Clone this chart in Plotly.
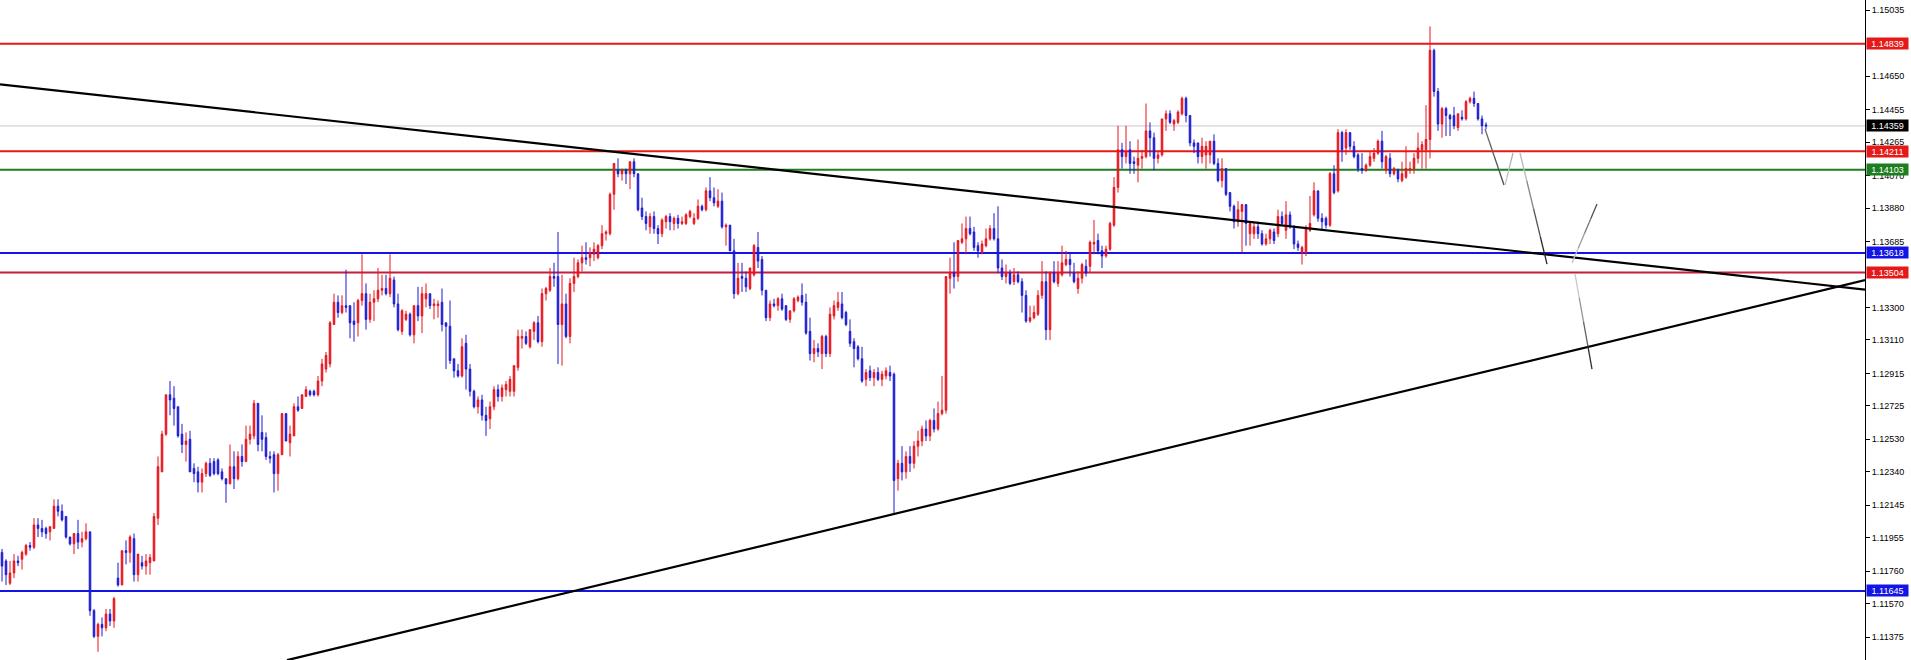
import plotly.graph_objects as go

# ---------------- data (prices) ----------------
open_ = [
1.1187,1.1182,1.1169,1.1175,1.1182,1.1183,1.1186,1.1191,1.1190,1.1203,
1.1201,1.1201,1.1199,1.1201,1.1214,1.1211,1.1208,1.1196,1.1192,1.1198,
1.1193,1.1195,1.1199,1.1153,1.1138,1.1145,1.1143,1.1151,1.1147,1.1172,
1.1168,1.1188,1.1187,1.1195,1.1174,1.1181,1.1179,1.1181,1.1182,1.1207,
1.1234,1.1256,1.1279,1.1277,1.1272,1.1256,1.1250,1.1253,1.1236,1.1234,
1.1228,1.1233,1.1239,1.1240,1.1241,1.1234,1.1230,1.1227,1.1237,1.1230,
1.1243,1.1240,1.1253,1.1255,1.1274,1.1257,1.1254,1.1243,1.1244,1.1233,
1.1244,1.1268,1.1251,1.1255,1.1272,1.1271,1.1278,1.1281,1.1281,1.1279,
1.1287,1.1294,1.1297,1.1320,1.1333,1.1327,1.1331,1.1331,1.1322,1.1321,
1.1334,1.1338,1.1323,1.1333,1.1335,1.1340,1.1341,1.1338,1.1346,1.1332,
1.1316,1.1323,1.1326,1.1314,1.1331,1.1325,1.1335,1.1338,1.1331,1.1331,
1.1333,1.1321,1.1319,1.1300,1.1293,1.1290,1.1309,1.1294,1.1281,1.1272,
1.1276,1.1267,1.1265,1.1272,1.1282,1.1278,1.1282,1.1281,1.1281,1.1295,
1.1312,1.1313,1.1307,1.1316,1.1321,1.1310,1.1338,1.1340,1.1348,1.1348,
1.1320,1.1332,1.1313,1.1344,1.1348,1.1356,1.1359,1.1359,1.1361,1.1359,
1.1366,1.1373,1.1373,1.1396,1.1410,1.1408,1.1410,1.1408,1.1415,1.1408,
1.1388,1.1383,1.1377,1.1383,1.1376,1.1373,1.1380,1.1383,1.1379,1.1382,
1.1379,1.1379,1.1383,1.1379,1.1382,1.1389,1.1387,1.1398,1.1394,1.1389,
1.1392,1.1377,1.1378,1.1363,1.1338,1.1348,1.1347,1.1341,1.1349,1.1365,
1.1358,1.1340,1.1324,1.1332,1.1331,1.1335,1.1331,1.1323,1.1328,1.1334,
1.1337,1.1333,1.1316,1.1303,1.1306,1.1303,1.1313,1.1303,1.1325,1.1330,
1.1332,1.1327,1.1316,1.1310,1.1307,1.1300,1.1288,1.1293,1.1289,1.1292,
1.1288,1.1290,1.1292,1.1291,1.1230,1.1239,1.1234,1.1243,1.1239,1.1249,
1.1252,1.1259,1.1255,1.1264,1.1259,1.1268,1.1270,1.1347,1.1350,1.1348,
1.1368,1.1370,1.1376,1.1374,1.1366,1.1362,1.1366,1.1370,1.1376,1.1370,
1.1353,1.1348,1.1350,1.1345,1.1349,1.1345,1.1337,1.1322,1.1324,1.1326,
1.1337,1.1345,1.1317,1.1350,1.1344,1.1349,1.1355,1.1358,1.1350,1.1341,
1.1347,1.1354,1.1354,1.1367,1.1369,1.1363,1.1360,1.1364,1.1378,1.1400,
1.1422,1.1418,1.1422,1.1415,1.1413,1.1417,1.1418,1.1433,1.1429,1.1417,
1.1419,1.1440,1.1443,1.1437,1.1438,1.1443,1.1452,1.1442,1.1426,1.1426,
1.1418,1.1419,1.1419,1.1427,1.1414,1.1404,1.1411,1.1397,1.1389,1.1380,
1.1386,1.1390,1.1373,1.1373,1.1377,1.1373,1.1367,1.1370,1.1374,1.1373,
1.1383,1.1375,1.1384,1.1376,1.1367,1.1362,1.1362,1.1375,1.1384,1.1398,
1.1382,1.1382,1.1378,1.1408,1.1398,1.1432,1.1423,1.1432,1.1424,1.1419,
1.1411,1.1410,1.1413,1.1417,1.1420,1.1427,1.1410,1.1417,1.1408,1.1410,
1.1404,1.1406,1.1410,1.1411,1.1417,1.1422,1.1422,1.1428,1.1480,1.1456,
1.1437,1.1446,1.1442,1.1442,1.1435,1.1441,1.1440,1.1450,1.1452,1.1449,
1.1440,1.14365]

high = [
1.1189,1.1183,1.1182,1.1186,1.1185,1.1188,1.1192,1.1193,1.1207,1.1207,
1.1206,1.1202,1.1202,1.1218,1.1218,1.1215,1.1208,1.1196,1.1198,1.1206,
1.1199,1.1204,1.1199,1.1154,1.1146,1.1149,1.1154,1.1154,1.1161,1.1181,
1.1188,1.1194,1.1197,1.1198,1.1186,1.1185,1.1186,1.1186,1.1210,1.1243,
1.1258,1.1279,1.1287,1.1284,1.1272,1.1262,1.1257,1.1258,1.1239,1.1237,
1.1236,1.1240,1.1242,1.1242,1.1242,1.1236,1.1230,1.1250,1.1246,1.1246,
1.1250,1.1261,1.1261,1.1276,1.1274,1.1267,1.1257,1.1246,1.1246,1.1245,
1.1268,1.1268,1.1261,1.1274,1.1278,1.1279,1.1284,1.1282,1.1282,1.1290,
1.1300,1.1304,1.1322,1.1338,1.1337,1.1337,1.1352,1.1331,1.1333,1.1335,
1.1361,1.1344,1.1338,1.1340,1.1353,1.1349,1.1349,1.1361,1.1348,1.1338,
1.1329,1.1328,1.1327,1.1331,1.1342,1.1342,1.1344,1.1338,1.1335,1.1334,
1.1341,1.1321,1.1334,1.1300,1.1297,1.1312,1.1314,1.1297,1.1282,1.1278,
1.1279,1.1272,1.1275,1.1284,1.1285,1.1285,1.1287,1.1290,1.1296,1.1317,
1.1317,1.1316,1.1317,1.1322,1.1325,1.1341,1.1342,1.1353,1.1356,1.1374,
1.1349,1.1338,1.1347,1.1359,1.1358,1.1366,1.1368,1.1365,1.1368,1.1367,
1.1378,1.1375,1.1397,1.1414,1.1417,1.1411,1.1411,1.1415,1.1417,1.1408,
1.1394,1.1386,1.1385,1.1386,1.1378,1.1382,1.1384,1.1385,1.1383,1.1384,
1.1383,1.1385,1.1387,1.1385,1.1393,1.1390,1.1400,1.1406,1.1400,1.1399,
1.1397,1.1379,1.1378,1.1370,1.1356,1.1356,1.1351,1.1353,1.1367,1.1374,
1.1360,1.1340,1.1334,1.1335,1.1336,1.1338,1.1331,1.1328,1.1336,1.1337,
1.1344,1.1338,1.1324,1.1311,1.1309,1.1314,1.1314,1.1330,1.1334,1.1339,
1.1339,1.1328,1.1323,1.1312,1.1308,1.1307,1.1294,1.1296,1.1294,1.1295,
1.1293,1.1295,1.1296,1.1292,1.1241,1.1249,1.1246,1.1249,1.1252,1.1258,
1.1261,1.1264,1.1265,1.1271,1.1275,1.1290,1.1348,1.1359,1.1368,1.1369,
1.1379,1.1383,1.1383,1.1377,1.1368,1.1369,1.1376,1.1378,1.1385,1.1389,
1.1358,1.1355,1.1352,1.1353,1.1351,1.1347,1.1340,1.1331,1.1331,1.1340,
1.1357,1.1351,1.1351,1.1357,1.1357,1.1366,1.1363,1.1362,1.1356,1.1351,
1.1356,1.1358,1.1369,1.1381,1.1373,1.1366,1.1366,1.1380,1.1406,1.1436,
1.1426,1.1436,1.1427,1.1418,1.1428,1.1422,1.1449,1.1438,1.1432,1.1421,
1.1440,1.1445,1.1445,1.1440,1.1445,1.1453,1.1453,1.1442,1.1428,1.1426,
1.1429,1.1427,1.1427,1.1431,1.1417,1.1417,1.1411,1.1397,1.1390,1.1392,
1.1390,1.1390,1.1380,1.1380,1.1380,1.1375,1.1373,1.1376,1.1376,1.1387,
1.1386,1.1392,1.1386,1.1378,1.1369,1.1366,1.1378,1.1395,1.1403,1.1398,
1.1385,1.1383,1.1409,1.1413,1.1434,1.1433,1.1434,1.1432,1.1427,1.1420,
1.1420,1.1414,1.1421,1.1423,1.1428,1.1433,1.1419,1.1420,1.1412,1.1411,
1.1415,1.1424,1.1415,1.1420,1.1432,1.1427,1.1448,1.1494,1.1481,1.1458,
1.1447,1.1447,1.1443,1.1447,1.1443,1.1445,1.1451,1.1453,1.1456,1.1449,
1.1442,1.1438]

low = [
1.1170,1.1168,1.1168,1.1172,1.1179,1.1177,1.1185,1.1188,1.1189,1.1196,
1.1196,1.1195,1.1194,1.1201,1.1208,1.1205,1.1195,1.1191,1.1186,1.1189,
1.1190,1.1194,1.1150,1.1137,1.1129,1.1138,1.1141,1.1144,1.1143,1.1167,
1.1168,1.1180,1.1181,1.1170,1.1170,1.1177,1.1174,1.1174,1.1182,1.1203,
1.1234,1.1255,1.1267,1.1261,1.1254,1.1245,1.1240,1.1234,1.1228,1.1222,
1.1222,1.1231,1.1231,1.1232,1.1232,1.1229,1.1216,1.1227,1.1224,1.1229,
1.1237,1.1240,1.1250,1.1253,1.1246,1.1246,1.1241,1.1239,1.1222,1.1223,
1.1244,1.1252,1.1243,1.1255,1.1269,1.1271,1.1278,1.1278,1.1278,1.1278,
1.1284,1.1292,1.1295,1.1320,1.1324,1.1326,1.1327,1.1312,1.1310,1.1313,
1.1331,1.1317,1.1321,1.1322,1.1333,1.1337,1.1337,1.1336,1.1330,1.1316,
1.1314,1.1322,1.1313,1.1309,1.1322,1.1315,1.1330,1.1329,1.1323,1.1324,
1.1316,1.1294,1.1297,1.1289,1.1289,1.1289,1.1282,1.1278,1.1271,1.1268,
1.1264,1.1255,1.1259,1.1270,1.1275,1.1275,1.1278,1.1278,1.1278,1.1293,
1.1306,1.1308,1.1306,1.1311,1.1309,1.1307,1.1334,1.1339,1.1342,1.1297,
1.1296,1.1312,1.1309,1.1339,1.1347,1.1351,1.1355,1.1354,1.1357,1.1358,
1.1364,1.1369,1.1372,1.1387,1.1406,1.1404,1.1402,1.1399,1.1406,1.1386,
1.1381,1.1375,1.1373,1.1373,1.1367,1.1371,1.1376,1.1375,1.1375,1.1376,
1.1378,1.1378,1.1382,1.1378,1.1381,1.1386,1.1386,1.1392,1.1389,1.1388,
1.1376,1.1366,1.1363,1.1335,1.1337,1.1339,1.1339,1.1340,1.1348,1.1353,
1.1337,1.1322,1.1322,1.1330,1.1328,1.1328,1.1322,1.1321,1.1327,1.1333,
1.1331,1.1314,1.1299,1.1298,1.1301,1.1294,1.1301,1.1301,1.1323,1.1328,
1.1323,1.1319,1.1307,1.1295,1.1299,1.1286,1.1284,1.1287,1.1284,1.1287,
1.1284,1.1288,1.1287,1.1210,1.1223,1.1229,1.1230,1.1234,1.1236,1.1243,
1.1249,1.1252,1.1252,1.1257,1.1258,1.1267,1.1268,1.1338,1.1341,1.1345,
1.1367,1.1361,1.1372,1.1363,1.1359,1.1361,1.1365,1.1369,1.1369,1.1350,
1.1346,1.1344,1.1343,1.1343,1.1344,1.1327,1.1321,1.1321,1.1323,1.1325,
1.1335,1.1311,1.1311,1.1344,1.1342,1.1348,1.1354,1.1348,1.1344,1.1338,
1.1344,1.1348,1.1350,1.1361,1.1361,1.1353,1.1359,1.1363,1.1377,1.1397,
1.1411,1.1414,1.1408,1.1408,1.1403,1.1411,1.1417,1.1418,1.1410,1.1414,
1.1418,1.1433,1.1437,1.1433,1.1437,1.1442,1.1438,1.1424,1.1420,1.1414,
1.1414,1.1411,1.1414,1.1413,1.1403,1.1400,1.1395,1.1386,1.1376,1.1377,
1.1362,1.1366,1.1366,1.1370,1.1370,1.1366,1.1366,1.1367,1.1367,1.1371,
1.1378,1.1370,1.1376,1.1364,1.1363,1.1355,1.1360,1.1374,1.1383,1.1380,
1.1375,1.1376,1.1377,1.1396,1.1397,1.1415,1.1419,1.1422,1.1417,1.1409,
1.1408,1.1409,1.1412,1.1415,1.1419,1.1411,1.1408,1.1406,1.1407,1.1403,
1.1403,1.1405,1.1408,1.1408,1.1414,1.1411,1.1411,1.1417,1.1453,1.1433,
1.1429,1.1430,1.1430,1.1434,1.1433,1.1439,1.1439,1.1449,1.1447,1.1439,
1.1431,1.1434]

close = [
1.1179,1.1174,1.1175,1.1182,1.1181,1.1187,1.1191,1.1190,1.1203,1.1201,
1.1199,1.1198,1.1202,1.1214,1.1211,1.1206,1.1196,1.1192,1.1198,1.1193,
1.1195,1.1199,1.1153,1.1138,1.1145,1.1143,1.1151,1.1147,1.1160,1.1168,
1.1188,1.1187,1.1196,1.1174,1.1186,1.1179,1.1182,1.1184,1.1208,1.1237,
1.1256,1.1279,1.1276,1.1271,1.1255,1.1250,1.1252,1.1234,1.1233,1.1228,
1.1233,1.1239,1.1232,1.1233,1.1233,1.1230,1.1227,1.1237,1.1230,1.1243,
1.1240,1.1253,1.1256,1.1274,1.1250,1.1253,1.1243,1.1242,1.1233,1.1244,
1.1268,1.1252,1.1256,1.1272,1.1270,1.1279,1.1282,1.1279,1.1279,1.1287,
1.1297,1.1302,1.1321,1.1333,1.1327,1.1331,1.1330,1.1321,1.1320,1.1334,
1.1338,1.1323,1.1333,1.1335,1.1340,1.1341,1.1338,1.1347,1.1332,1.1317,
1.1328,1.1326,1.1314,1.1331,1.1325,1.1338,1.1338,1.1331,1.1332,1.1332,
1.1320,1.1319,1.1299,1.1293,1.1290,1.1307,1.1294,1.1281,1.1272,1.1276,
1.1267,1.1264,1.1272,1.1282,1.1278,1.1283,1.1285,1.1288,1.1296,1.1313,
1.1313,1.1309,1.1317,1.1321,1.1310,1.1338,1.1341,1.1348,1.1347,1.1320,
1.1332,1.1313,1.1344,1.1348,1.1356,1.1359,1.1358,1.1362,1.1364,1.1366,
1.1373,1.1374,1.1396,1.1414,1.1408,1.1410,1.1408,1.1415,1.1408,1.1387,
1.1383,1.1379,1.1383,1.1376,1.1373,1.1381,1.1383,1.1380,1.1382,1.1379,
1.1380,1.1384,1.1386,1.1382,1.1389,1.1387,1.1398,1.1394,1.1391,1.1392,
1.1377,1.1378,1.1363,1.1338,1.1347,1.1347,1.1342,1.1353,1.1366,1.1357,
1.1340,1.1324,1.1332,1.1331,1.1335,1.1329,1.1323,1.1328,1.1335,1.1336,
1.1333,1.1315,1.1303,1.1306,1.1304,1.1313,1.1303,1.1326,1.1331,1.1333,
1.1324,1.1320,1.1309,1.1306,1.1300,1.1287,1.1292,1.1289,1.1292,1.1288,
1.1291,1.1293,1.1290,1.1229,1.1239,1.1234,1.1243,1.1239,1.1249,1.1252,
1.1259,1.1255,1.1264,1.1259,1.1268,1.1270,1.1348,1.1350,1.1348,1.1369,
1.1370,1.1376,1.1373,1.1365,1.1363,1.1367,1.1370,1.1376,1.1370,1.1353,
1.1348,1.1350,1.1344,1.1349,1.1345,1.1337,1.1322,1.1324,1.1327,1.1337,
1.1345,1.1317,1.1350,1.1345,1.1350,1.1356,1.1358,1.1355,1.1345,1.1347,
1.1355,1.1350,1.1368,1.1368,1.1363,1.1360,1.1364,1.1379,1.1400,1.1422,
1.1418,1.1421,1.1414,1.1414,1.1417,1.1418,1.1433,1.1429,1.1417,1.1419,
1.1440,1.1443,1.1438,1.1439,1.1444,1.1452,1.1442,1.1426,1.1424,1.1418,
1.1424,1.1424,1.1427,1.1414,1.1404,1.1411,1.1396,1.1389,1.1380,1.1387,
1.1390,1.1379,1.1379,1.1377,1.1373,1.1367,1.1370,1.1375,1.1369,1.1383,
1.1379,1.1384,1.1378,1.1367,1.1365,1.1365,1.1376,1.1379,1.1398,1.1382,
1.1380,1.1378,1.1408,1.1397,1.1432,1.1422,1.1432,1.1424,1.1418,1.1411,
1.1410,1.1413,1.1418,1.1420,1.1427,1.1415,1.1418,1.1408,1.1411,1.1405,
1.1408,1.1411,1.1411,1.1417,1.1423,1.1425,1.1428,1.1480,1.1456,1.1437,
1.1446,1.1442,1.1440,1.1436,1.1443,1.1440,1.1450,1.1452,1.1449,1.1440,
1.1436,1.14359]

# horizontal levels (price, line colour, label background)
levels = [1.14839, 1.14359, 1.14211, 1.14103, 1.13618, 1.13504, 1.11645]
level_line_colors = ["#e61919", "#c8c8c8", "#e61919", "#1e7d1e", "#1414e6", "#c41e3a", "#1414e6"]
level_label_colors = ["#e61919", "#000000", "#e61919", "#1e7d1e", "#1414e6", "#e61919", "#1414e6"]
level_widths = [2, 1, 2, 2, 2, 2, 2]

# right-axis tick values
tick_values = [1.15035, 1.14650, 1.14455, 1.14265, 1.14070, 1.13880, 1.13685,
               1.13300, 1.13110, 1.12915, 1.12725, 1.12530, 1.12340, 1.12145,
               1.11955, 1.11760, 1.11570, 1.11375]

# trend lines: (bar index, price) end points
trend_down_x = [-0.5, 465.75]
trend_down_y = [1.14602, 1.13404]
trend_up_x = [71.25, 465.75]
trend_up_y = [1.11241, 1.13459]

# projected path segments drawn after the last bar: (x0, y0, x1, y1)
proj_segments = [
    (370.75, 1.14341, 375.5, 1.14014),
    (375.75, 1.14014, 377.75, 1.14201),
    (379.5, 1.14201, 386.25, 1.13553),
    (392.5, 1.13559, 398.75, 1.13903),
    (393.25, 1.13495, 397.5, 1.12940),
]
proj_start_shade = [110, 200, 210, 215, 225]   # grey level at segment start
proj_end_shade = [70, 170, 10, 60, 20]         # grey level at segment end

# ---------------- figure ----------------
n = len(close)
idx = list(range(n))
hi = [max(h, o, c) for h, o, c in zip(high, open_, close)]
lo = [min(l, o, c) for l, o, c in zip(low, open_, close)]

RED = "#e8141c"
BLUE = "#1a1ad2"
FONT = "Liberation Sans, Arial, sans-serif"

fig = go.Figure()

# horizontal level lines (under candles)
for p, col, w in zip(levels, level_line_colors, level_widths):
    fig.add_shape(type="line", xref="paper", x0=0, x1=1, yref="y", y0=p, y1=p,
                  line=dict(color=col, width=w), layer="below")

fig.add_trace(go.Candlestick(
    x=idx, open=open_, high=hi, low=lo, close=close,
    increasing=dict(line=dict(color=RED, width=1), fillcolor=RED),
    decreasing=dict(line=dict(color=BLUE, width=1), fillcolor=BLUE),
    whiskerwidth=0, showlegend=False, hoverinfo="skip"))

fig.add_trace(go.Scatter(x=trend_down_x, y=trend_down_y, mode="lines",
                         line=dict(color="black", width=2.2), showlegend=False, hoverinfo="skip"))
fig.add_trace(go.Scatter(x=trend_up_x, y=trend_up_y, mode="lines",
                         line=dict(color="black", width=2.2), showlegend=False, hoverinfo="skip"))

# projected path, drawn light-to-dark in a few steps
steps = 4
for (x0, y0, x1, y1), s0, s1 in zip(proj_segments, proj_start_shade, proj_end_shade):
    for k in range(steps):
        t0, t1 = k / steps, (k + 1) / steps
        g = int(round(s0 + (s1 - s0) * (k + 0.5) / steps))
        fig.add_trace(go.Scatter(
            x=[x0 + (x1 - x0) * t0, x0 + (x1 - x0) * t1],
            y=[y0 + (y1 - y0) * t0, y0 + (y1 - y0) * t1],
            mode="lines", line=dict(color=f"rgb({g},{g},{g})", width=1.3),
            showlegend=False, hoverinfo="skip"))

# price labels on the right axis
for p, col in zip(levels, level_label_colors):
    fig.add_annotation(xref="paper", x=1, xanchor="left", xshift=1,
                       yref="y", y=p, yanchor="middle",
                       text=f"{p:.5f}", showarrow=False,
                       font=dict(family=FONT, size=9, color="white"),
                       bgcolor=col, width=41, height=11, borderpad=0, align="center")

TOP = 1.15094
BOTTOM = 1.11242

fig.update_layout(
    width=1911, height=660,
    margin=dict(l=0, r=46, t=0, b=0),
    paper_bgcolor="white", plot_bgcolor="white",
    boxgap=0.45,
    showlegend=False,
    xaxis=dict(range=[-0.5, 465.75], visible=False, showgrid=False,
               rangeslider=dict(visible=False), fixedrange=True),
    yaxis=dict(range=[BOTTOM, TOP], side="right", showgrid=False, zeroline=False,
               showline=True, linecolor="black", linewidth=1,
               ticks="outside", ticklen=4, tickcolor="black", tickwidth=1,
               tickvals=tick_values, ticktext=[f"{v:.5f}" for v in tick_values],
               tickfont=dict(family=FONT, size=9, color="black"),
               fixedrange=True),
)

fig.write_html(
    "out.html",
    config={"displayModeBar": False},
    post_script="document.body.style.margin='0';document.body.style.overflow='hidden';",
)
